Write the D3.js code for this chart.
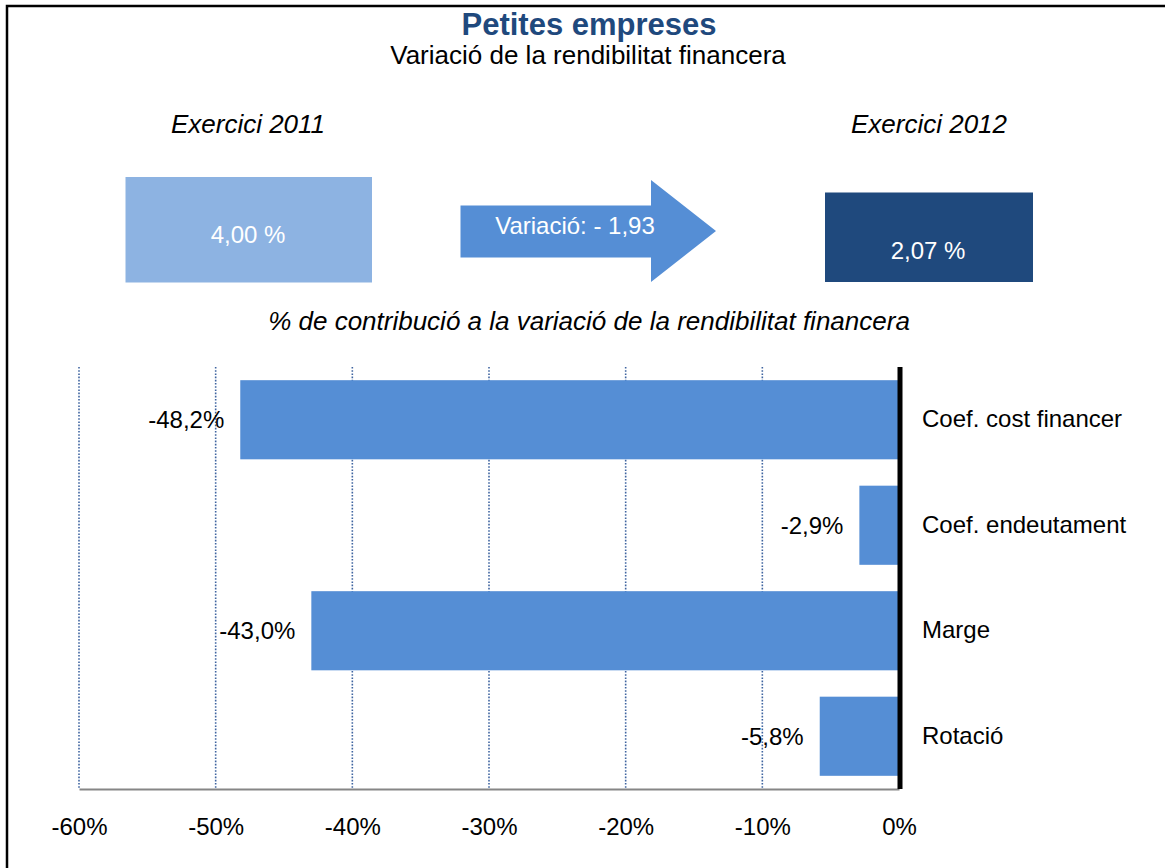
<!DOCTYPE html>
<html>
<head>
<meta charset="utf-8">
<script src="https://cdn.jsdelivr.net/npm/d3@7"></script>
<style>
  html, body { margin: 0; padding: 0; background: #fff; }
  svg { display: block; font-family: "Liberation Sans", Arial, sans-serif; }
</style>
</head>
<body>
<svg id="chart" width="1165" height="868"></svg>
<script>
// ---- data ----
const categories = ["Coef. cost financer", "Coef. endeutament", "Marge", "Rotació"];
const values = [-48.2, -2.9, -43.0, -5.8];
const ticks = [-60, -50, -40, -30, -20, -10, 0];
const yearLabels = ["Exercici 2011", "Exercici 2012"];
const yearValues = [4.00, 2.07];
const variation = [-1.93];
const titleText = "Petites empreses";
const subtitleText = "Variació de la rendibilitat financera";
const chartHeading = "% de contribució a la variació de la rendibilitat financera";

// ---- formatting (Catalan decimal comma, ASCII hyphen minus) ----
const loc = d3.formatLocale({ decimal: ",", thousands: ".", grouping: [3], currency: ["", " €"], minus: "-" });
const f1 = loc.format(".1f");
const f2 = loc.format(".2f");
const f0 = loc.format("d");

const svg = d3.select("#chart");

// frame (only top and left edges visible)
svg.append("path")
  .attr("d", "M7,880 L7,6 L1180,6")
  .attr("fill", "none").attr("stroke", "#000").attr("stroke-width", 2.5);

// titles
svg.append("text").attr("x", 589).attr("y", 35).attr("text-anchor", "middle")
  .attr("font-size", 31).attr("font-weight", "bold").attr("fill", "#1F497D").text(titleText);
svg.append("text").attr("x", 588).attr("y", 64).attr("text-anchor", "middle")
  .attr("font-size", 26).attr("fill", "#000").text(subtitleText);

// year headings
const yearX = [248, 929];
yearLabels.forEach((t, i) => {
  svg.append("text").attr("x", yearX[i]).attr("y", 133).attr("text-anchor", "middle")
    .attr("font-size", 26).attr("font-style", "italic").attr("fill", "#000").text(t);
});

// summary boxes
svg.append("rect").attr("x", 125.5).attr("y", 177).attr("width", 246.5).attr("height", 105.5)
  .attr("fill", "#8DB3E2");
svg.append("text").attr("x", 248).attr("y", 243).attr("text-anchor", "middle")
  .attr("font-size", 24).attr("fill", "#fff").text(f2(yearValues[0]) + " %");

svg.append("rect").attr("x", 825).attr("y", 192.5).attr("width", 208).attr("height", 89.5)
  .attr("fill", "#1F497D");
svg.append("text").attr("x", 928).attr("y", 259).attr("text-anchor", "middle")
  .attr("font-size", 24).attr("fill", "#fff").text(f2(yearValues[1]) + " %");

// arrow
svg.append("path")
  .attr("d", "M460.5,205.5 L651,205.5 L651,180 L716,231 L651,282 L651,257.5 L460.5,257.5 Z")
  .attr("fill", "#558ED5");
svg.append("text").attr("x", 575).attr("y", 234).attr("text-anchor", "middle")
  .attr("font-size", 24).attr("fill", "#fff")
  .text("Variació: - " + f2(Math.abs(variation[0])));

// chart heading
svg.append("text").attr("x", 589).attr("y", 330).attr("text-anchor", "middle")
  .attr("font-size", 26).attr("font-style", "italic").attr("fill", "#000").text(chartHeading);

// ---- bar chart ----
const x = d3.scaleLinear().domain([-60, 0]).range([79, 899]);
const y = d3.scaleBand().domain(categories).range([367, 789]).paddingInner(0.25).paddingOuter(0.125);

// gridlines
svg.append("g").selectAll("line").data(ticks.filter(t => t !== 0)).join("line")
  .attr("x1", d => x(d)).attr("x2", d => x(d))
  .attr("y1", 367).attr("y2", 789)
  .attr("stroke", "#3F64A0").attr("stroke-width", 1.6).attr("stroke-dasharray", "1.6,1.6");

// bars
const data = categories.map((c, i) => ({ c, v: values[i] }));
svg.append("g").selectAll("rect").data(data).join("rect")
  .attr("x", d => x(d.v)).attr("y", d => y(d.c))
  .attr("width", d => x(0) - x(d.v)).attr("height", y.bandwidth())
  .attr("fill", "#558ED5");

// value labels
svg.append("g").selectAll("text").data(data).join("text")
  .attr("x", d => x(d.v) - 16).attr("y", d => y(d.c) + y.bandwidth() / 2)
  .attr("dy", "0.36em").attr("text-anchor", "end")
  .attr("font-size", 24).attr("fill", "#000")
  .text(d => f1(d.v) + "%");

// bottom axis
const xAxis = d3.axisBottom(x).tickValues(ticks).tickSize(0).tickPadding(0)
  .tickFormat(d => f0(d) + "%");
const gx = svg.append("g").attr("transform", "translate(0,789)").call(xAxis);
gx.select(".domain").attr("stroke", "#868686").attr("stroke-width", 2.2);
gx.selectAll("text").attr("font-size", 24).attr("fill", "#000")
  .attr("font-family", "Liberation Sans, Arial, sans-serif")
  .attr("dy", null).attr("y", 46);

// zero line
svg.append("line").attr("x1", x(0) + 1).attr("x2", x(0) + 1).attr("y1", 367).attr("y2", 789)
  .attr("stroke", "#000").attr("stroke-width", 5);

// category labels
const yAxis = d3.axisRight(y).tickSize(0).tickPadding(0);
const gy = svg.append("g").attr("transform", `translate(${x(0) + 23},0)`).call(yAxis);
gy.select(".domain").remove();
gy.selectAll("text").attr("font-size", 24).attr("fill", "#000")
  .attr("font-family", "Liberation Sans, Arial, sans-serif");
</script>
</body>
</html>
